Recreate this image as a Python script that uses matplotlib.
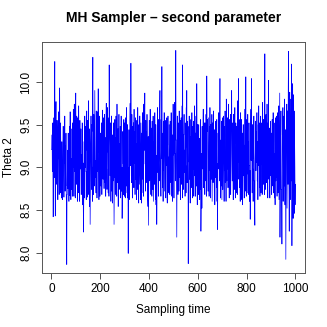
import matplotlib
matplotlib.use("Agg")
import matplotlib.pyplot as plt

# MH chain values for the second parameter (t = 1..1000).
# Repeated values are rejected proposals.
theta2 = [
    9.21, 9.21, 9.38, 8.95, 8.95, 9.52, 8.42, 8.42, 9.30, 9.58, 9.58, 8.88, 9.80, 10.24, 9.15, 8.43, 8.43, 9.48, 9.77, 9.02,
    9.02, 8.80, 9.55, 9.55, 9.20, 8.62, 8.62, 9.40, 9.65, 9.10, 9.10, 8.68, 9.50, 9.93, 9.10, 9.10, 8.70, 9.52, 9.00, 9.00,
    8.64, 8.64, 9.30, 8.85, 8.85, 8.62, 9.18, 9.48, 9.48, 8.95, 8.65, 8.65, 9.36, 9.05, 9.60, 8.72, 8.72, 9.25, 8.78, 9.40,
    8.66, 8.55, 7.86, 8.68, 8.68, 9.20, 8.75, 8.75, 9.40, 8.98, 8.98, 8.60, 9.15, 9.48, 9.48, 8.67, 9.65, 8.90, 8.90, 8.62,
    9.10, 9.10, 8.74, 9.45, 9.45, 8.66, 9.52, 9.00, 9.00, 9.68, 9.22, 8.66, 8.66, 9.74, 8.95, 8.95, 9.50, 8.64, 9.60, 9.87,
    9.30, 9.30, 8.80, 9.60, 8.95, 8.95, 8.60, 9.58, 9.12, 9.12, 8.70, 9.72, 9.35, 9.35, 8.85, 8.60, 9.55, 8.98, 8.98, 9.02,
    9.45, 8.68, 8.68, 9.15, 8.82, 9.52, 9.52, 8.56, 9.05, 9.05, 8.48, 8.24, 8.88, 9.30, 9.30, 8.64, 9.60, 9.00, 9.00, 9.48,
    8.95, 8.95, 8.62, 9.42, 9.66, 9.20, 9.20, 8.65, 9.55, 9.02, 9.02, 9.78, 8.68, 8.68, 9.12, 8.54, 9.45, 9.25, 8.33, 8.82,
    9.28, 9.60, 9.60, 8.74, 9.50, 9.00, 9.00, 8.60, 9.72, 10.29, 9.42, 9.42, 8.68, 9.62, 9.25, 9.25, 8.78, 9.90, 9.40, 8.88,
    9.08, 9.08, 8.70, 9.66, 9.32, 9.32, 8.64, 9.50, 8.95, 9.65, 9.18, 9.92, 8.98, 8.98, 8.62, 9.60, 9.22, 9.22, 8.66, 9.05,
    9.40, 9.40, 8.78, 9.15, 9.52, 9.52, 8.68, 8.98, 9.67, 9.28, 9.28, 8.86, 9.58, 9.02, 9.02, 8.75, 9.20, 9.62, 8.82, 9.35,
    9.10, 8.66, 8.66, 9.48, 9.75, 8.98, 8.98, 8.74, 9.46, 9.70, 9.18, 9.18, 8.70, 9.58, 9.04, 8.66, 10.20, 9.40, 9.40, 9.25,
    8.90, 9.52, 9.52, 8.60, 9.05, 9.60, 9.60, 8.72, 9.22, 9.22, 8.58, 9.38, 8.84, 9.52, 9.52, 8.98, 8.33, 8.78, 9.20, 9.56,
    8.88, 9.35, 9.35, 8.68, 9.60, 9.02, 9.02, 8.66, 9.74, 9.16, 9.16, 8.82, 9.45, 8.54, 9.00, 9.00, 9.62, 8.74, 9.28, 9.10,
    8.82, 9.48, 9.48, 8.64, 9.20, 9.60, 8.72, 8.72, 9.00, 8.40, 8.68, 8.68, 9.42, 9.04, 9.04, 8.68, 9.56, 9.30, 8.66, 9.52,
    9.05, 9.05, 8.64, 9.58, 9.20, 9.20, 8.78, 9.70, 9.34, 8.70, 8.70, 9.50, 8.64, 9.00, 7.99, 8.85, 8.85, 9.44, 8.62, 9.12,
    8.90, 9.55, 9.75, 9.02, 9.02, 10.22, 9.30, 8.82, 8.82, 9.62, 9.15, 8.64, 8.64, 9.48, 8.96, 9.52, 9.52, 8.76, 9.68, 9.05,
    9.42, 9.42, 8.68, 9.12, 9.58, 8.86, 8.86, 9.28, 8.62, 9.55, 9.55, 9.00, 8.74, 9.70, 9.35, 9.35, 8.82, 8.58, 9.50, 9.08,
    8.80, 9.60, 9.60, 9.22, 8.62, 8.62, 9.52, 8.98, 8.58, 9.40, 9.40, 8.86, 9.64, 9.14, 9.14, 8.70, 9.52, 8.66, 9.74, 9.28,
    9.20, 9.56, 9.87, 9.04, 9.04, 8.72, 9.55, 8.96, 8.96, 9.42, 8.82, 9.62, 9.18, 9.18, 8.62, 8.54, 9.36, 8.32, 8.78, 9.15,
    9.55, 9.55, 8.84, 9.02, 9.68, 9.25, 9.25, 8.68, 9.46, 8.95, 8.95, 8.66, 9.54, 9.08, 9.08, 8.74, 9.60, 9.16, 8.60, 8.98,
    9.30, 9.30, 8.80, 9.64, 9.04, 9.04, 8.62, 9.50, 8.56, 9.14, 9.14, 8.33, 8.74, 9.38, 9.70, 8.94, 8.94, 9.22, 8.66, 9.56,
    9.06, 8.84, 9.45, 9.66, 9.90, 9.18, 9.00, 9.00, 8.66, 9.56, 9.10, 9.10, 10.18, 9.04, 8.76, 8.76, 9.40, 8.60, 9.54, 8.96,
    9.22, 9.64, 9.64, 8.72, 9.15, 9.55, 9.55, 8.90, 8.64, 9.42, 9.02, 9.02, 9.58, 8.78, 8.58, 9.26, 9.26, 9.60, 8.82, 9.12,
    8.70, 8.70, 9.50, 9.04, 8.68, 8.68, 9.54, 9.18, 9.18, 8.82, 9.64, 9.00, 9.00, 8.66, 9.38, 8.60, 9.14, 9.14, 9.74, 9.30,
    9.06, 8.64, 8.64, 9.58, 9.76, 9.16, 9.16, 8.84, 9.82, 10.37, 9.32, 9.32, 8.76, 8.18, 8.92, 9.60, 9.60, 9.20, 8.68, 9.52,
    9.40, 9.40, 8.72, 9.66, 9.12, 9.12, 8.88, 9.55, 8.62, 9.04, 9.04, 9.58, 8.80, 9.26, 9.26, 9.72, 8.64, 10.20, 9.14, 8.96,
    8.74, 9.38, 9.38, 9.62, 8.94, 9.20, 9.20, 8.66, 9.52, 9.02, 9.02, 8.70, 9.70, 9.24, 9.90, 8.82, 8.82, 9.54, 9.06, 9.48,
    7.87, 8.62, 8.62, 9.12, 9.60, 8.86, 8.86, 9.36, 8.58, 9.00, 9.00, 9.56, 8.76, 9.22, 9.22, 9.64, 8.96, 8.64, 9.48, 9.34,
    8.98, 8.98, 9.54, 8.66, 9.16, 9.16, 9.72, 8.90, 9.40, 9.40, 8.66, 9.06, 9.60, 8.78, 8.78, 9.98, 9.28, 8.56, 9.50, 8.90,
    9.14, 9.14, 8.68, 9.50, 8.84, 8.84, 9.34, 8.62, 9.00, 9.00, 8.74, 9.56, 8.25, 8.60, 9.16, 9.16, 8.52, 9.48, 8.98, 9.48,
    9.38, 9.68, 9.68, 8.76, 9.06, 9.52, 9.52, 8.96, 8.68, 9.52, 9.22, 9.22, 8.84, 9.62, 9.04, 8.66, 10.07, 9.42, 9.42, 9.56,
    9.00, 8.72, 8.72, 9.58, 9.16, 8.66, 8.66, 9.48, 8.96, 9.70, 9.08, 9.08, 8.64, 9.50, 9.24, 9.24, 8.86, 9.62, 8.60, 9.10,
    9.52, 9.52, 8.82, 9.20, 9.66, 9.00, 9.00, 8.66, 9.44, 8.56, 9.12, 9.12, 8.88, 9.54, 9.02, 9.02, 8.76, 9.56, 8.60, 9.04,
    8.27, 8.72, 9.40, 9.40, 8.98, 9.64, 9.18, 9.18, 8.84, 9.50, 10.04, 9.06, 8.64, 8.64, 9.32, 8.78, 9.54, 9.54, 8.62, 9.14,
    9.58, 8.74, 8.74, 9.06, 9.60, 9.26, 9.26, 8.60, 9.48, 8.96, 8.96, 9.66, 8.82, 9.18, 9.18, 8.60, 9.80, 9.08, 8.84, 9.36,
    8.98, 9.58, 9.58, 8.76, 9.20, 9.74, 9.04, 9.04, 8.64, 9.56, 9.14, 9.14, 8.88, 9.62, 8.68, 9.02, 9.54, 9.44, 9.90, 9.16,
    8.84, 8.84, 9.52, 9.06, 8.62, 8.62, 9.62, 9.22, 9.22, 8.74, 9.40, 9.70, 8.98, 8.98, 8.64, 9.52, 9.28, 9.28, 8.70, 9.48,
    9.18, 8.68, 9.52, 9.78, 9.06, 9.06, 10.04, 8.86, 8.86, 9.34, 8.76, 9.56, 9.56, 8.60, 9.64, 9.16, 9.16, 8.62, 9.56, 8.96,
    8.78, 9.40, 9.40, 8.56, 9.04, 9.50, 9.50, 8.90, 9.26, 8.64, 8.64, 9.68, 9.14, 8.72, 8.72, 9.50, 10.06, 9.02, 8.66, 9.06,
    9.56, 9.56, 8.70, 9.14, 9.62, 8.92, 8.92, 9.30, 8.68, 9.52, 9.02, 9.02, 8.60, 8.96, 8.39, 8.76, 9.46, 9.68, 9.08, 10.04,
    9.24, 9.24, 8.70, 9.50, 8.98, 8.98, 8.60, 9.48, 9.10, 9.60, 8.84, 8.84, 8.58, 8.32, 9.06, 9.22, 9.54, 8.96, 8.96, 9.42,
    9.06, 9.64, 9.64, 8.84, 9.30, 8.62, 8.62, 9.50, 9.02, 9.72, 9.16, 9.16, 8.76, 9.52, 8.66, 9.26, 9.26, 9.60, 8.70, 9.44,
    9.04, 9.52, 9.52, 8.68, 9.48, 9.76, 9.00, 9.00, 8.80, 9.56, 9.22, 9.22, 8.68, 9.70, 10.33, 9.18, 9.18, 8.74, 9.56, 9.62,
    8.82, 8.82, 9.26, 9.74, 9.04, 9.04, 8.64, 9.52, 9.14, 10.02, 8.86, 8.86, 9.46, 8.98, 8.64, 8.64, 9.36, 9.54, 8.90, 9.20,
    9.40, 9.40, 8.68, 9.02, 9.56, 9.12, 9.12, 8.78, 9.64, 8.70, 8.70, 9.24, 9.52, 8.64, 9.16, 9.16, 8.56, 9.50, 9.58, 8.84,
    9.30, 8.88, 8.88, 9.60, 8.66, 9.14, 9.14, 9.64, 8.70, 9.46, 9.46, 9.72, 8.62, 9.06, 9.56, 9.87, 8.18, 8.64, 9.38, 9.38,
    9.66, 8.74, 8.74, 8.54, 8.10, 8.86, 9.50, 9.50, 9.70, 8.60, 9.04, 9.04, 9.60, 8.78, 9.80, 9.28, 8.56, 8.56, 9.44, 8.70,
    7.92, 8.66, 9.48, 9.48, 9.74, 8.52, 9.00, 9.66, 9.66, 8.80, 9.95, 10.36, 9.14, 8.72, 8.25, 9.34, 9.88, 8.98, 8.62, 9.58,
    9.20, 9.80, 8.84, 10.21, 9.04, 8.08, 8.60, 9.52, 9.98, 9.10, 8.40, 9.40, 9.85, 8.76, 9.66, 8.46, 9.30, 9.00, 8.56, 8.80,
]
sampling_time = list(range(1, len(theta2) + 1))

x_ticks = [0, 200, 400, 600, 800, 1000]
y_ticks = [8.0, 8.5, 9.0, 9.5, 10.0]

plt.rcParams['font.family'] = ['Liberation Sans', 'DejaVu Sans']

fig = plt.figure(figsize=(3.27, 3.27), dpi=100)
ax = fig.add_axes([0.128, 0.165, 0.805, 0.707])

ax.plot(sampling_time, theta2, color='blue', linewidth=0.5)

# R-style 4% padding around the data range
xr = max(sampling_time) - min(sampling_time)
yr = max(theta2) - min(theta2)
ax.set_xlim(min(sampling_time) - 0.04 * xr, max(sampling_time) + 0.04 * xr)
ax.set_ylim(min(theta2) - 0.04 * yr, max(theta2) + 0.04 * yr)

ax.set_xticks(x_ticks)
ax.set_yticks(y_ticks)
ax.set_yticklabels([f"{v:.1f}" for v in y_ticks], rotation=90, va='center')
ax.tick_params(direction='out', length=4, width=0.6, labelsize=8.5, pad=3, color='#333333')
for s in ax.spines.values():
    s.set_linewidth(0.7)
    s.set_color('#555555')

ax.set_title("MH Sampler \u2013 second parameter", fontsize=10, fontweight='bold', pad=14)
ax.set_xlabel("Sampling time", fontsize=8.5, labelpad=7)
ax.set_ylabel("Theta 2", fontsize=8.5, labelpad=4)

fig.savefig("out.png", dpi=100)
